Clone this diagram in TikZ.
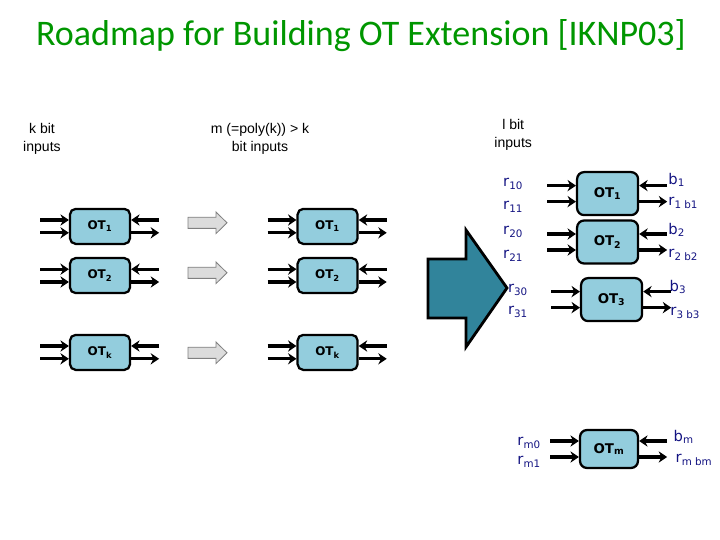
\documentclass[tikz,border=0pt]{standalone}
\usepackage{fontspec}
\setmainfont{DejaVu Sans}
\newfontfamily\titlefont{Carlito}
\newfontfamily\labelfont{Liberation Sans}
\usepackage{tikz}
\usetikzlibrary{arrows.meta,positioning,calc}
\definecolor{titlegreen}{RGB}{0,150,0}
\definecolor{otfill}{RGB}{147,205,221}
\definecolor{bigteal}{RGB}{49,132,155}
\definecolor{arrowgray}{RGB}{220,220,220}
\definecolor{labelnavy}{RGB}{20,20,130}

\tikzset{
  otbox/.style={draw, rounded corners=4pt, line width=1.6pt, fill=otfill, minimum width=1.5cm, minimum height=0.875cm, inner sep=0pt, font=\fontsize{8.5}{9}\selectfont\bfseries},
  bigotbox/.style={otbox, minimum width=1.525cm, minimum height=1.075cm, rounded corners=5pt, font=\fontsize{9.5}{10}\selectfont\bfseries},
  wire/.style={-{Stealth[length=6pt,width=8pt]}, line width=2.2pt},
  caption/.style={font=\labelfont\fontsize{10}{12.75}\selectfont, align=center},
  rlabel/.style={font=\fontsize{10.5}{12}\selectfont, text=labelnavy, inner sep=1pt},
}

\begin{document}
\begin{tikzpicture}
  \useasboundingbox (0,0) rectangle (18,13.5);

  % Title
  \node[font=\titlefont\fontsize{25.6}{30}\selectfont, text=titlegreen] (title) at (9.025,12.6) {Roadmap for Building OT Extension [IKNP03]};

  % Column headings
  \node[caption] (kin) at (1.05,10.03) {k bit\\inputs};
  \node[caption] (min) at (6.5,10.03) {m (=poly(k)) > k\\bit inputs};
  \node[caption] (lin) at (12.83,10.13) {l bit\\inputs};

  % k OTs on the left and the same k OTs in the middle
  \foreach \n/\y/\s in {1/7.84/1, 2/6.61/2, k/4.69/k} {
    \node[otbox] (a\n) at (2.5,\y) {OT\textsubscript{\s}};
    \node[otbox] (b\n) at (8.19,\y) {OT\textsubscript{\s}};
  }

  % Light gray step arrows between the two columns
  \foreach \y in {7.93, 6.68, 4.68} {
    \draw[fill=arrowgray, draw=gray, line width=0.6pt] (4.7,\y+0.14) -- (5.4,\y+0.14) -- (5.4,\y+0.27) -- (5.675,\y) -- (5.4,\y-0.27) -- (5.4,\y-0.14) -- (4.7,\y-0.14) -- cycle;
  }

  % Big teal arrow: extension step
  \draw[fill=bigteal, line width=2pt, line join=miter] (10.7,7.025) -- (11.65,7.025) -- (11.65,7.75) -- (12.675,6.3) -- (11.65,4.825) -- (11.65,5.55) -- (10.7,5.55) -- cycle;

  % m OTs on the right
  \node[bigotbox] (c1) at (15.19,8.66) {OT\textsubscript{1}};
  \node[bigotbox] (c2) at (15.19,7.45) {OT\textsubscript{2}};
  \node[bigotbox] (c3) at (15.29,6.01) {OT\textsubscript{3}};
  \node[bigotbox, minimum width=1.45cm, minimum height=0.95cm] (cm) at (15.225,2.275) {OT\textsubscript{m}};

  % Wires in and out of every OT box
  \foreach \n/\dy in {a1/0.16, a2/0.16, ak/0.16, b1/0.16, b2/0.16, bk/0.16, c1/0.2, c2/0.2, c3/0.2, cm/0.2} {
    \draw[wire] ([xshift=-0.72cm,yshift=\dy cm]\n.west) -- ([yshift=\dy cm]\n.west);
    \draw[wire] ([xshift=-0.72cm,yshift=-\dy cm]\n.west) -- ([yshift=-\dy cm]\n.west);
    \draw[wire] ([xshift=0.7cm,yshift=\dy cm]\n.east) -- ([yshift=\dy cm]\n.east);
    \draw[wire] ([yshift=-\dy cm]\n.east) -- ([xshift=0.7cm,yshift=-\dy cm]\n.east);
  }

  % Sender inputs
  \foreach \n/\x/\y/\t in {r10/12.83/8.9/10, r11/12.83/8.325/11, r20/12.83/7.7/20, r21/12.83/7.1/21, r30/12.95/6.25/30, r31/12.95/5.7/31, rm0/13.23/2.43/m0, rm1/13.23/1.95/m1} {
    \node[rlabel] (\n) at (\x,\y) {r\textsubscript{\t}};
  }

  % Receiver choice bits and outputs
  \foreach \n/\x/\y/\t in {ch1/16.67/9.0/1, ch2/16.67/7.75/2, ch3/16.7/6.325/3, chm/16.8/2.575/m} {
    \node[rlabel, anchor=west] (\n) at (\x,\y) {b\textsubscript{\t}};
  }
  \foreach \n/\x/\y/\t in {out1/16.67/8.43/1 b1, out2/16.67/7.125/2 b2, out3/16.72/5.675/3 b3, outm/16.85/2.0/m bm} {
    \node[rlabel, anchor=west] (\n) at (\x,\y) {r\textsubscript{\t}};
  }

\end{tikzpicture}
\end{document}
